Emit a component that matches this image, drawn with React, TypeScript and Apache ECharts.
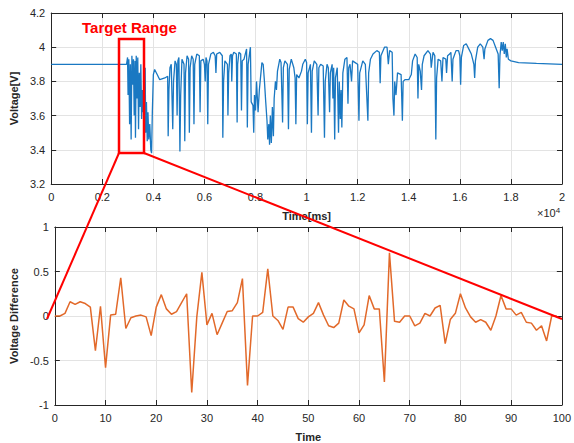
import React, { useEffect, useRef } from "react";
import * as echarts from "echarts";

// Top chart: voltage over time [ms, V]
const topSignal: [number, number][] = [
  [0, 3.9], [2950, 3.9],
  [2990, 3.94], [3010, 3.72], [3040, 3.93], [3070, 3.55], [3100, 3.9], [3130, 3.46], [3160, 3.95], [3190, 3.78],
  [3220, 3.93], [3250, 3.6], [3280, 3.92], [3300, 3.47], [3330, 3.95], [3360, 3.7], [3390, 3.94], [3420, 3.52],
  [3450, 3.85], [3480, 3.65], [3510, 3.9], [3540, 3.58], [3570, 3.75], [3600, 3.62], [3630, 3.72], [3650, 3.47],
  [3680, 3.88], [3700, 3.5], [3730, 3.68], [3760, 3.45], [3790, 3.62], [3820, 3.46], [3860, 3.55], [3900, 3.4],
  [3930, 3.38], [3960, 3.62], [4000, 3.84], [4050, 3.87], [4150, 3.84], [4250, 3.81], [4450, 3.82], [4560, 3.83],
  [4580, 3.48], [4610, 3.75], [4650, 3.88], [4700, 3.9], [4760, 3.52], [4790, 3.8], [4850, 3.92], [4900, 3.9],
  [4930, 3.6], [4960, 3.92], [5000, 3.94], [5040, 3.39], [5070, 3.72], [5120, 3.93], [5200, 3.9], [5230, 3.45],
  [5260, 3.85], [5320, 3.95], [5380, 3.93], [5410, 3.5], [5440, 3.88], [5500, 3.95], [5560, 3.93], [5590, 3.55],
  [5620, 3.9], [5700, 3.96], [5800, 3.95], [5830, 3.62], [5860, 3.92], [5950, 3.93], [6000, 3.9], [6030, 3.8],
  [6060, 3.94], [6100, 3.92], [6130, 3.55], [6160, 3.9], [6250, 3.96], [6350, 3.97], [6420, 3.95], [6450, 3.85],
  [6480, 3.96], [6600, 3.97], [6700, 3.95], [6720, 3.47], [6750, 3.8], [6800, 3.92], [6900, 3.9], [6920, 3.6],
  [6950, 3.85], [7000, 3.95], [7050, 3.96], [7070, 3.8], [7100, 3.95], [7150, 3.97], [7250, 3.96], [7280, 3.56],
  [7300, 3.9], [7350, 3.97], [7420, 3.96], [7450, 3.63], [7480, 3.92], [7550, 3.93], [7650, 3.99], [7680, 3.53],
  [7710, 3.9], [7800, 4.0], [7830, 3.68], [7900, 3.66], [7930, 3.5], [7960, 3.72], [8000, 3.63], [8040, 3.8],
  [8100, 3.62], [8150, 3.75], [8250, 3.91], [8300, 3.9], [8350, 3.8], [8400, 3.68], [8450, 3.57], [8480, 3.46],
  [8520, 3.55], [8550, 3.43], [8580, 3.6], [8620, 3.44], [8660, 3.65], [8700, 3.48], [8730, 3.7], [8780, 3.8],
  [8820, 3.75], [8860, 3.86], [8950, 3.93], [9000, 3.91], [9060, 3.56], [9090, 3.88], [9150, 3.92], [9250, 3.9],
  [9290, 3.52], [9320, 3.87], [9400, 3.93], [9500, 3.88], [9550, 3.82], [9580, 3.55], [9610, 3.84], [9700, 3.82],
  [9800, 3.86], [9850, 3.9], [9950, 3.93], [10000, 3.91], [10030, 3.55], [10060, 3.85], [10150, 3.9], [10190, 3.5],
  [10220, 3.86], [10300, 3.92], [10400, 3.9], [10450, 3.6], [10480, 3.88], [10550, 3.9], [10650, 3.89], [10700, 3.47],
  [10730, 3.8], [10800, 3.9], [10850, 3.88], [10900, 3.62], [10930, 3.85], [11000, 3.9], [11030, 3.7], [11060, 3.88],
  [11100, 3.46], [11130, 3.82], [11200, 3.88], [11250, 3.5], [11280, 3.8], [11320, 3.58], [11350, 3.75], [11380, 3.53],
  [11420, 3.85], [11500, 3.93], [11580, 3.94], [11620, 3.67], [11650, 3.88], [11700, 3.9], [11760, 3.8], [11800, 3.92],
  [11900, 3.91], [12000, 3.9], [12050, 3.57], [12080, 3.85], [12200, 3.92], [12300, 3.9], [12400, 3.57], [12430, 3.85],
  [12500, 3.93], [12600, 3.96], [12750, 3.98], [12850, 3.97], [12880, 3.79], [12910, 3.95], [13050, 4.0], [13150, 4.0],
  [13200, 3.9], [13250, 3.98], [13350, 3.97], [13380, 3.7], [13420, 3.6], [13450, 3.8], [13500, 3.72], [13560, 3.85],
  [13700, 3.84], [13750, 3.57], [13780, 3.8], [13850, 3.81], [14000, 3.81], [14100, 3.84], [14150, 3.92], [14250, 3.96],
  [14330, 3.94], [14360, 3.7], [14390, 3.9], [14450, 3.86], [14500, 3.75], [14530, 3.9], [14600, 3.95], [14750, 3.98],
  [14850, 3.96], [14880, 3.88], [14950, 3.97], [15020, 3.95], [15060, 3.46], [15090, 3.82], [15150, 3.93], [15250, 3.92],
  [15300, 3.8], [15340, 3.94], [15450, 3.93], [15480, 3.85], [15520, 3.95], [15600, 3.96], [15650, 3.97], [15700, 3.8],
  [15730, 3.93], [15850, 3.98], [15950, 3.98], [16000, 3.95], [16030, 3.78], [16060, 3.94], [16150, 4.01], [16250, 4.02],
  [16350, 3.99], [16450, 3.96], [16550, 3.9], [16580, 3.82], [16610, 3.92], [16700, 4.0], [16800, 4.02], [16900, 4.0],
  [16950, 3.93], [16980, 3.99], [17100, 4.04], [17200, 4.05], [17300, 4.04], [17400, 4.0], [17500, 3.96], [17540, 3.76],
  [17570, 3.95], [17620, 4.03], [17660, 3.98], [17700, 4.03], [17740, 3.96], [17780, 4.02], [17820, 3.94], [17850, 3.99],
  [17900, 3.93], [18000, 3.92], [18300, 3.91], [19000, 3.905], [20000, 3.9],
];

// Bottom chart: voltage difference per sample (samples 0..99)
const diffValues: number[] = [
  0, 0, 0.03, 0.16, 0.13, 0.16, 0.14, 0.1, -0.39, 0.11,
  -0.58, 0.01, 0.02, 0.43, -0.14, -0.02, 0, 0.01, -0.01, -0.22,
  0.1, 0.24, 0.08, 0.02, 0.05, 0.15, 0.25, -0.86, -0.01, 0.49,
  -0.1, 0.03, -0.21, -0.08, 0.05, 0.06, 0.15, 0.42, -0.78, 0,
  0, 0.04, 0.53, 0, -0.05, -0.15, 0.1, 0.1, -0.03, -0.07,
  -0.01, 0.03, 0.15, 0.01, -0.11, -0.13, -0.08, 0.18, 0.11, 0.08,
  -0.19, -0.1, 0.23, 0.08, 0.08, -0.74, 0.71, -0.06, -0.07, 0,
  0, -0.11, -0.08, 0.03, 0, 0.09, 0.12, -0.31, -0.04, 0.03,
  0.25, 0.09, -0.01, -0.07, -0.04, -0.07, -0.16, 0, 0.23, 0.08,
  0.08, 0.01, 0.04, -0.07, -0.08, -0.16, -0.11, -0.28, 0, 0,
];

const TEXT = "#262626";
const GRIDC = "#e3e3e3";
const FONT = "Liberation Sans, Arial, sans-serif";

export default function App() {
  const ref = useRef<HTMLDivElement>(null);
  useEffect(() => {
    if (!ref.current) return;
    const chart = echarts.init(ref.current, undefined, { renderer: "svg" });
    const label = { color: TEXT, fontSize: 11, fontFamily: FONT };
    const boxAxis = (extra: any) => ({
      axisLine: { show: true, onZero: false, lineStyle: { color: TEXT, width: 1 } },
      axisTick: { show: true, inside: true, length: 5, lineStyle: { color: TEXT } },
      axisLabel: { show: false },
      splitLine: { show: false },
      ...extra,
    });
    const nameStyle = { color: TEXT, fontSize: 11, fontWeight: "bold", fontFamily: FONT };
    chart.setOption({
      animation: false,
      backgroundColor: "#ffffff",
      grid: [
        { left: 47, top: 13, width: 515, height: 171 },
        { left: 47, top: 227, width: 515, height: 182 },
      ],
      xAxis: [
        {
          type: "value", gridIndex: 0, min: 0, max: 20000, interval: 2000, position: "bottom",
          axisLine: { show: true, onZero: false, lineStyle: { color: TEXT } },
          axisTick: { show: true, inside: true, length: 5, lineStyle: { color: TEXT } },
          axisLabel: { ...label, margin: 7, formatter: (v: number) => String(Math.round(v / 1000) / 10) },
          splitLine: { show: true, lineStyle: { color: GRIDC } },
          name: "Time[ms]", nameLocation: "middle", nameGap: 26, nameTextStyle: nameStyle,
        },
        boxAxis({ type: "value", gridIndex: 0, min: 0, max: 20000, interval: 2000, position: "top" }),
        {
          type: "value", gridIndex: 1, min: 0, max: 100, interval: 10, position: "bottom",
          axisLine: { show: true, onZero: false, lineStyle: { color: TEXT } },
          axisTick: { show: true, inside: true, length: 5, lineStyle: { color: TEXT } },
          axisLabel: { ...label, margin: 7 },
          splitLine: { show: true, lineStyle: { color: GRIDC } },
          name: "Time", nameLocation: "middle", nameGap: 26, nameTextStyle: nameStyle,
        },
        boxAxis({ type: "value", gridIndex: 1, min: 0, max: 100, interval: 10, position: "top" }),
      ],
      yAxis: [
        {
          type: "value", gridIndex: 0, min: 3.2, max: 4.2, interval: 0.2, position: "left",
          axisLine: { show: true, onZero: false, lineStyle: { color: TEXT } },
          axisTick: { show: true, inside: true, length: 5, lineStyle: { color: TEXT } },
          axisLabel: { ...label, margin: 6 },
          splitLine: { show: true, lineStyle: { color: GRIDC } },
          name: "Voltage[V]", nameLocation: "middle", nameGap: 26, nameTextStyle: nameStyle,
        },
        boxAxis({ type: "value", gridIndex: 0, min: 3.2, max: 4.2, interval: 0.2, position: "right" }),
        {
          type: "value", gridIndex: 1, min: -1, max: 1, interval: 0.5, position: "left",
          axisLine: { show: true, onZero: false, lineStyle: { color: TEXT } },
          axisTick: { show: true, inside: true, length: 5, lineStyle: { color: TEXT } },
          axisLabel: { ...label, margin: 6 },
          splitLine: { show: true, lineStyle: { color: GRIDC } },
          name: "Voltage Difference", nameLocation: "middle", nameGap: 28, nameTextStyle: nameStyle,
        },
        boxAxis({ type: "value", gridIndex: 1, min: -1, max: 1, interval: 0.5, position: "right" }),
      ],
      series: [
        {
          type: "line", xAxisIndex: 0, yAxisIndex: 0, data: topSignal, showSymbol: false,
          lineStyle: { color: "#1a78c2", width: 1.3 }, z: 3,
        },
        {
          type: "line", xAxisIndex: 2, yAxisIndex: 2,
          data: diffValues.map((v, i) => [i, v]), showSymbol: false,
          lineStyle: { color: "#e2692a", width: 1.5 }, z: 3,
        },
      ],
      graphic: [
        {
          type: "text", left: 82, top: 20, z: 100,
          style: { text: "Target Range", fill: "#ff0000", font: `bold 15px ${FONT}` },
        },
        {
          type: "rect", z: 100, shape: { x: 119, y: 39, width: 25, height: 114 },
          style: { fill: "none", stroke: "#ff0000", lineWidth: 2.5 },
        },
        {
          type: "line", z: 100, shape: { x1: 119, y1: 153, x2: 47, y2: 319 },
          style: { stroke: "#ff0000", lineWidth: 2 },
        },
        {
          type: "line", z: 100, shape: { x1: 144, y1: 153, x2: 562, y2: 319 },
          style: { stroke: "#ff0000", lineWidth: 2 },
        },
        {
          type: "text", left: 537, top: 206, z: 100,
          style: {
            text: "×10{s|4}", fill: TEXT, font: `11px ${FONT}`,
            rich: { s: { fontSize: 8, verticalAlign: "top", padding: [0, 0, 6, 0], fill: TEXT } },
          },
        },
      ],
    });
    return () => chart.dispose();
  }, []);
  return <div ref={ref} style={{ position: "fixed", left: 0, top: 0, width: 574, height: 443 }} />;
}
